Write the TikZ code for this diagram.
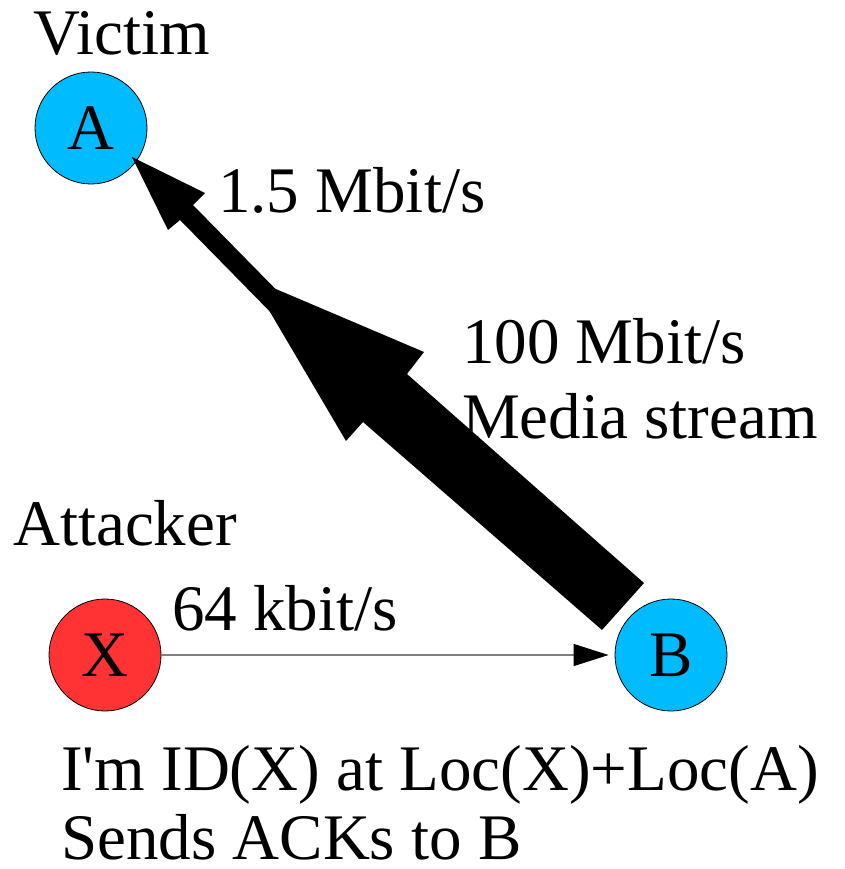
\documentclass[tikz,border=0pt]{standalone}
\usepackage{fontspec}
\setmainfont{Liberation Serif}[Ligatures=TeXOff]
\usetikzlibrary{arrows.meta}
\definecolor{hostblue}{RGB}{0,188,255}
\definecolor{hostred}{RGB}{255,51,51}
\tikzset{
  big/.style={font=\rmfamily\fontsize{65}{75}\selectfont},
  host/.style={circle, draw=black, line width=0.8pt, minimum size=112pt,
    inner sep=0pt, big},
  lbl/.style={anchor=base west, inner sep=0pt, big},
  flow/.style={fill=black, draw=none},
}
\begin{document}
\begin{tikzpicture}[x=1pt, y=-1pt]
\useasboundingbox (0,0) rectangle (844,869);

% hosts
\node[host, fill=hostblue] (A) at (91,128) {A};
\node[host, fill=hostred]  (X) at (105,655) {X};
\node[host, fill=hostblue] (B) at (671,655) {B};

% labels
\node[lbl] (victim)   at (33,55)   {Victim};
\node[lbl] (rate15)   at (218,212) {1.5 Mbit/s};
\node[lbl] (rate100)  at (462,363) {100 Mbit/s};
\node[lbl] (media)    at (462,438) {Media stream};
\node[lbl] (attacker) at (13,545)  {Attacker};
\node[lbl] (rate64)   at (172,630) {64 kbit/s};
\node[lbl] (claim)    at (61,790)  {I'm ID(X) at Loc(X)+Loc(A)};
\node[lbl] (acks)     at (61,859)  {Sends ACKs to B};

% thin attack stream towards A
\fill[flow] (300,314) -- (193,205) -- (205,193) -- (132,157)
  -- (168,230) -- (180,220) -- (287,329) -- cycle;
% thick media stream leaving B
\fill[flow] (644,583) -- (407,374) -- (424,352) -- (250,278)
  -- (346,441) -- (363,422) -- (602,630) -- cycle;

% ACK stream from X to B
\draw[gray, line width=1.2pt,
  -{Triangle[length=35pt, width=22pt, color=black]}, shorten >=6pt]
  (X.east) -- (B.west);
\end{tikzpicture}
\end{document}
